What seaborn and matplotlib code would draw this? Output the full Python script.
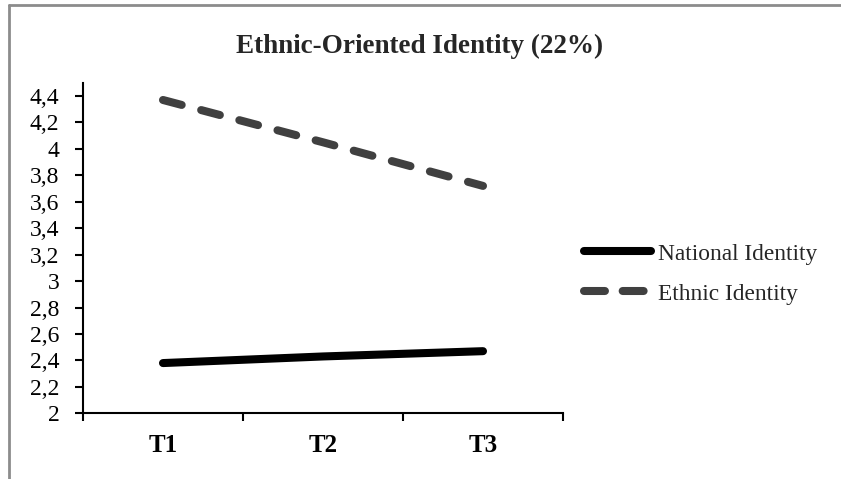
import matplotlib
matplotlib.use("Agg")
import matplotlib.pyplot as plt
import seaborn as sns
import pandas as pd
from matplotlib.lines import Line2D
from matplotlib.ticker import FixedLocator, FixedFormatter

# ---- data ----
times = ["T1", "T2", "T3"]
national = [2.38, 2.43, 2.47]
ethnic = [4.37, 4.05, 3.72]
series_names = ["National Identity", "Ethnic Identity"]
y_ticks = [2.0, 2.2, 2.4, 2.6, 2.8, 3.0, 3.2, 3.4, 3.6, 3.8, 4.0, 4.2, 4.4]
y_tick_labels = ["2", "2,2", "2,4", "2,6", "2,8", "3", "3,2", "3,4", "3,6", "3,8", "4", "4,2", "4,4"]
title = "Ethnic-Oriented Identity (22%)"

df = pd.DataFrame({
    "Time": times * 2,
    "Score": national + ethnic,
    "Series": [series_names[0]] * 3 + [series_names[1]] * 3,
})

sns.set_theme(style="white")
plt.rcParams["font.family"] = ["Liberation Serif", "DejaVu Serif"]

fig = plt.figure(figsize=(8.41, 4.79), dpi=100)
ax = fig.add_axes([83 / 841, 1 - 413.3 / 479, (563 - 83) / 841, (413.3 - 82.8) / 479])

lw = 5.8
sns.lineplot(
    data=df, x="Time", y="Score", hue="Series", style="Series",
    palette={series_names[0]: "#000000", series_names[1]: "#404040"},
    dashes={series_names[0]: "", series_names[1]: (2.4, 2.5)},
    linewidth=lw, ax=ax, legend=False,
    solid_capstyle="round", dash_capstyle="round",
)

ax.set_xlim(-0.5, 2.5)
ax.set_ylim(2.0, 4.5)
ax.set_xlabel("")
ax.set_ylabel("")

# y axis ticks
ax.yaxis.set_major_locator(FixedLocator(y_ticks))
ax.yaxis.set_major_formatter(FixedFormatter(y_tick_labels))
ax.tick_params(axis="y", which="major", direction="out", length=6, width=1.5,
               color="black", labelsize=17, pad=11, left=True, labelcolor="black")

# x axis: boundary ticks, labels at centers
ax.set_xticks([-0.5, 0.5, 1.5, 2.5])
ax.set_xticklabels(["", "", "", ""])
ax.set_xticks([0, 1, 2], minor=True)
ax.set_xticklabels(times, minor=True, fontweight="bold", fontsize=18)
ax.tick_params(axis="x", which="major", direction="out", length=6, width=1.5,
               color="black", bottom=True)
ax.tick_params(axis="x", which="minor", length=0, pad=15, labelcolor="black")

for s in ["top", "right"]:
    ax.spines[s].set_visible(False)
for s in ["left", "bottom"]:
    ax.spines[s].set_color("black")
    ax.spines[s].set_linewidth(1.5)

# legend
handles = [
    Line2D([], [], color="#000000", lw=lw, solid_capstyle="round"),
    Line2D([], [], color="#404040", lw=lw, dashes=(2.6, 2.2), dash_capstyle="round"),
]
fig.legend(handles, series_names, loc="center left",
           bbox_to_anchor=(584 / 841, 1 - 274 / 479), frameon=False,
           fontsize=16.8, handlelength=2.87, handletextpad=0.3, labelspacing=0.8,
           borderaxespad=0, borderpad=0)

fig.text(420 / 841, 1 - 46 / 479, title, ha="center", va="center",
         fontsize=19.5, fontweight="bold")

# frame border (top and left visible)
fig.add_artist(Line2D([9 / 841, 1.0], [1 - 5 / 479, 1 - 5 / 479], color="#8c8c8c",
                      lw=2, transform=fig.transFigure))
fig.add_artist(Line2D([9 / 841, 9 / 841], [0.0, 1 - 5 / 479], color="#8c8c8c",
                      lw=2, transform=fig.transFigure))

fig.savefig("out.png", dpi=100)
